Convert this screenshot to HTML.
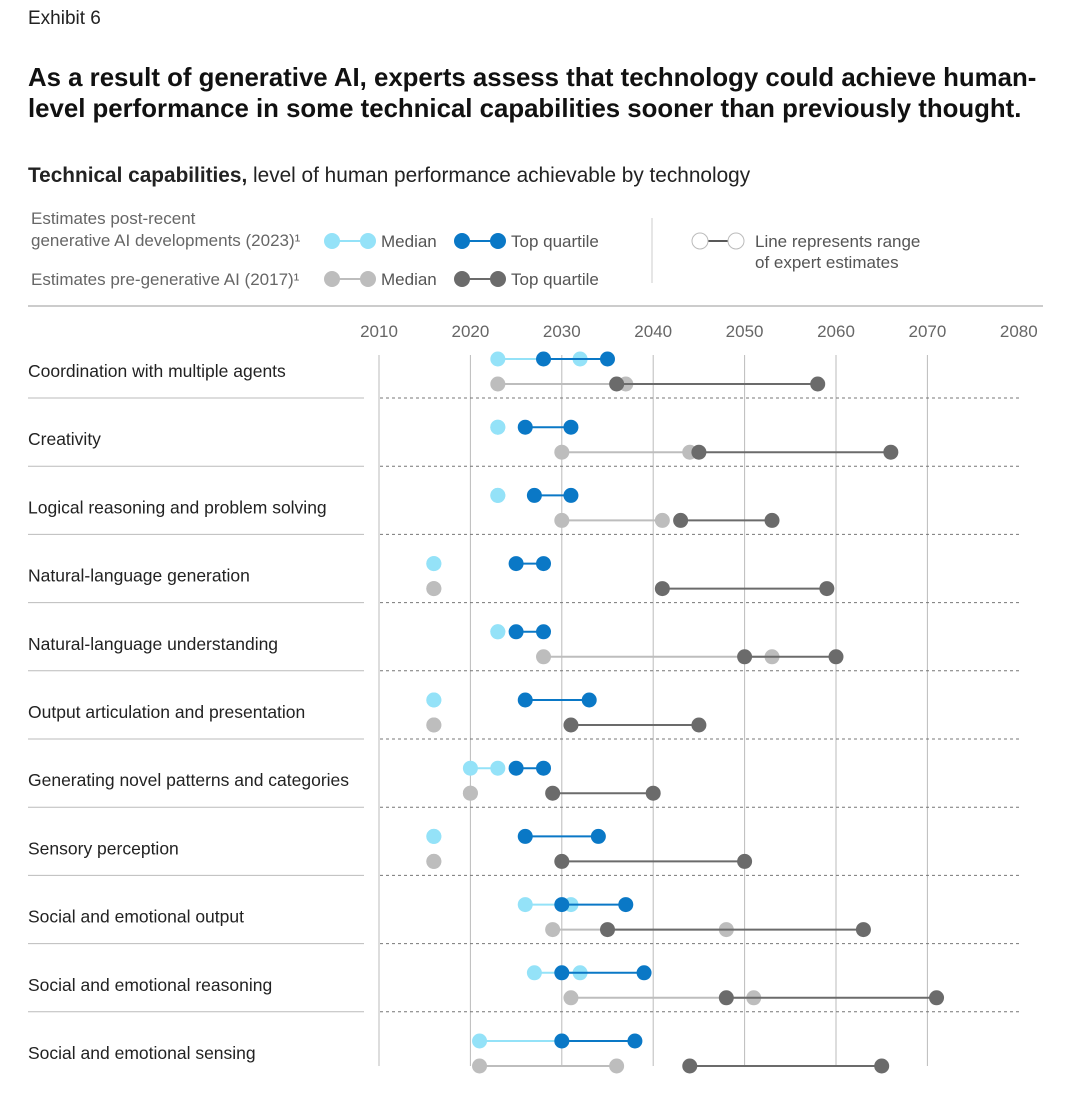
<!DOCTYPE html>
<html><head><meta charset="utf-8">
<style>
body{margin:0;background:#fff;font-family:"Liberation Sans",sans-serif;}
#wrap{position:relative;width:1080px;height:1101px;overflow:hidden;}
.t{position:absolute;white-space:nowrap;}
</style></head>
<body>
<div id="wrap">
<div class="t" style="left:28px;top:8px;font-size:19px;color:#222;">Exhibit 6</div>
<div class="t" style="left:28px;top:63px;font-size:25.8px;font-weight:bold;color:#111;line-height:31px;">As a result of generative AI, experts assess that technology could achieve human-<br>level performance in some technical capabilities sooner than previously thought.</div>
<div class="t" style="left:28px;top:164px;font-size:20.8px;color:#222;"><b>Technical capabilities,</b> level of human performance achievable by technology</div>
<svg id="chart" width="1080" height="1101" style="position:absolute;left:0;top:0"></svg>
</div>
<script>
const categories=["Coordination with multiple agents","Creativity","Logical reasoning and problem solving","Natural-language generation","Natural-language understanding","Output articulation and presentation","Generating novel patterns and categories","Sensory perception","Social and emotional output","Social and emotional reasoning","Social and emotional sensing"];
const median2023=[[2023,2032],[2023,2023],[2023,2023],[2016,2016],[2023,2023],[2016,2016],[2020,2023],[2016,2016],[2026,2031],[2027,2032],[2021,2030]];
const top2023=[[2028,2035],[2026,2031],[2027,2031],[2025,2028],[2025,2028],[2026,2033],[2025,2028],[2026,2034],[2030,2037],[2030,2039],[2030,2038]];
const median2017=[[2023,2037],[2030,2044],[2030,2041],[2016,2016],[2028,2053],[2016,2016],[2020,2020],[2016,2016],[2029,2048],[2031,2051],[2021,2036]];
const top2017=[[2036,2058],[2045,2066],[2043,2053],[2041,2059],[2050,2060],[2031,2045],[2029,2040],[2030,2050],[2035,2063],[2048,2071],[2044,2065]];
const ticks=[2010,2020,2030,2040,2050,2060,2070,2080];
const C={lb:"#94e2f8",db:"#0a78c6",lg:"#bdbdbd",dg:"#6b6b6b"};
const x=v=>379+(v-2010)*9.14;
const rowY=i=>359+i*68.2;
const svg=document.getElementById('chart');
const NS="http://www.w3.org/2000/svg";
function mk(tag,a,parent){const e=document.createElementNS(NS,tag);for(const k in a)e.setAttribute(k,a[k]);(parent||svg).appendChild(e);return e;}
function txt(s,xx,yy,a){const e=mk('text',Object.assign({x:xx,y:yy,'font-size':17,fill:'#222','font-family':'Liberation Sans, sans-serif'},a||{}));e.textContent=s;return e;}
let g=mk('g',{});


const lt=[["Estimates post-recent",31,224],["generative AI developments (2023)\u00b9",31,246],["Estimates pre-generative AI (2017)\u00b9",31,285]];
lt.forEach(l=>{const e=txt(l[0],l[1],l[2],{fill:'#666'});g.appendChild(e);});
function legPair(x1,y,col,label,name){const lg=mk('g',{},g);


mk('line',{x1:x1,x2:x1+36,y1:y,y2:y,stroke:col,'stroke-width':2},lg);
mk('circle',{cx:x1,cy:y,r:8,fill:col},lg);mk('circle',{cx:x1+36,cy:y,r:8,fill:col},lg);
const t=txt(label,x1+49,y+6,{fill:'#555'});lg.appendChild(t);}
legPair(332,241,C.lb,"Median","legend-median-2023");
legPair(462,241,C.db,"Top quartile","legend-top-quartile-2023");
legPair(332,279,C.lg,"Median","legend-median-2017");
legPair(462,279,C.dg,"Top quartile","legend-top-quartile-2017");
mk('line',{x1:652,x2:652,y1:218,y2:283,stroke:'#ccc'});
let rg=mk('g',{},g);


mk('line',{x1:700,x2:736,y1:241,y2:241,stroke:'#222','stroke-width':1.5},rg);
mk('circle',{cx:700,cy:241,r:8,fill:'#fff',stroke:'#bbb'},rg);mk('circle',{cx:736,cy:241,r:8,fill:'#fff',stroke:'#bbb'},rg);
rg.appendChild(txt("Line represents range",755,247,{fill:'#555'}));
rg.appendChild(txt("of expert estimates",755,268,{fill:'#555'}));
mk('line',{x1:28,x2:1043,y1:306,y2:306,stroke:'#ccc','stroke-width':2});
ticks.forEach(t=>{const e=txt(t,x(t),337,{'text-anchor':'middle',fill:'#666'});


if(t<2080){const l=mk('line',{x1:x(t),x2:x(t),y1:355,y2:1066,stroke:'#bbb'});

}});
categories.forEach((c,i)=>{const y=rowY(i);
const lab=txt(c,28,y+18,{fill:'#222','font-size':17.5});


if(i<categories.length-1){const sy=y+39;
mk('line',{x1:28,x2:364,y1:sy,y2:sy,stroke:'#bbb'});
mk('line',{x1:380,x2:1019,y1:sy,y2:sy,stroke:'#777','stroke-dasharray':'3,3'});}
function pair(v,yy,col,name){const pg=mk('g',{});


mk('line',{x1:x(v[0]),x2:x(v[1]),y1:yy,y2:yy,stroke:col,'stroke-width':2},pg);
v.forEach(d=>{const ci=mk('circle',{cx:x(d),cy:yy,r:7.5,fill:col},pg);

});}
pair(median2023[i],y,C.lb,'median-2023');
pair(top2023[i],y,C.db,'top-quartile-2023');
pair(median2017[i],y+25,C.lg,'median-2017');
pair(top2017[i],y+25,C.dg,'top-quartile-2017');
});
</script>
</body></html>
